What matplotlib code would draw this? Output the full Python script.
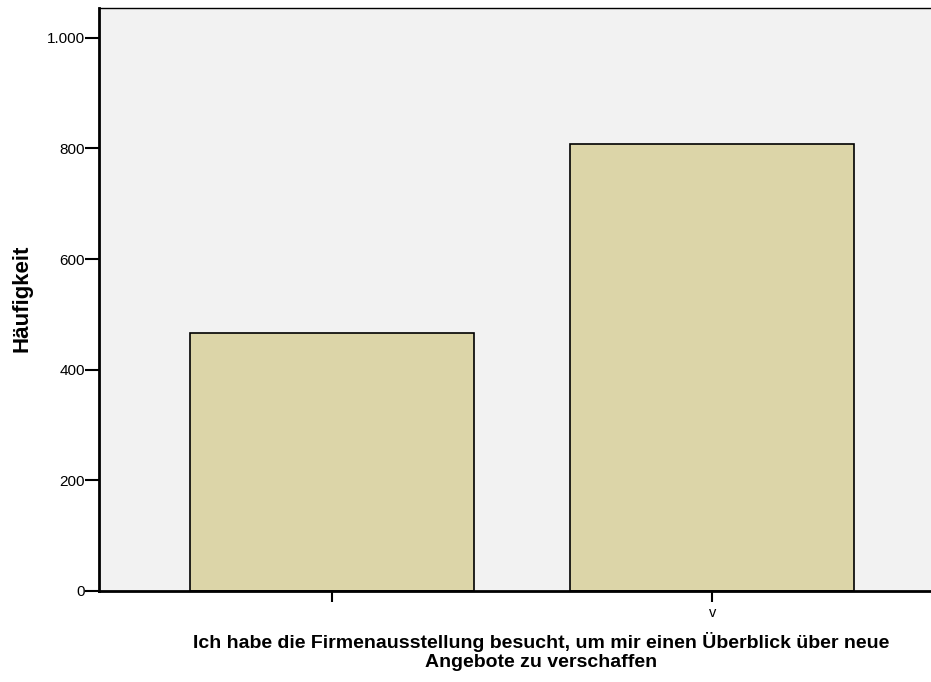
import numpy as np
import matplotlib.pyplot as plt
from matplotlib.ticker import FuncFormatter

plt.rcParams["font.family"] = ["Liberation Sans", "DejaVu Sans"]

categories = ["", "v"]
counts = [466, 808]
y_ticks = [0, 200, 400, 600, 800, 1000]

fig = plt.figure(figsize=(9.31, 6.82), dpi=100)
ax = fig.add_axes([99 / 931, 91 / 682, 1 - 99 / 931 + 0.01, 583 / 682])

x = np.arange(len(categories))
ax.bar(x, counts, 0.747, color="#DCD5A8", edgecolor="black", linewidth=1.2, zorder=2)

ax.set_facecolor("#F2F2F2")
ax.set_xlim(-0.613, 1.6)
ax.set_ylim(0, 1054)
ax.set_xticks(x)
ax.set_xticklabels(categories)
ax.set_yticks(y_ticks)
# German thousands separator
ax.yaxis.set_major_formatter(FuncFormatter(lambda v, p: f"{int(v):,}".replace(",", ".")))

ax.tick_params(axis="y", direction="out", length=10, width=1.5, labelsize=11, pad=0)
ax.tick_params(axis="x", direction="out", length=8, width=1.5, labelsize=10.5, pad=3)

for side in ["left", "bottom"]:
    ax.spines[side].set_linewidth(2)
for side in ["top", "right"]:
    ax.spines[side].set_linewidth(1)

fig.text(22 / 931, 1 - 298 / 682, "Häufigkeit", rotation=90, ha="center", va="center",
         fontsize=16, fontweight="bold")

fig.text(541 / 931, 1 - 648 / 682, "Ich habe die Firmenausstellung besucht, um mir einen Überblick über neue",
         ha="center", va="baseline", fontsize=14, fontweight="bold")
fig.text(541 / 931, 1 - 667 / 682, "Angebote zu verschaffen",
         ha="center", va="baseline", fontsize=14, fontweight="bold")

fig.savefig("out.png", dpi=100)
